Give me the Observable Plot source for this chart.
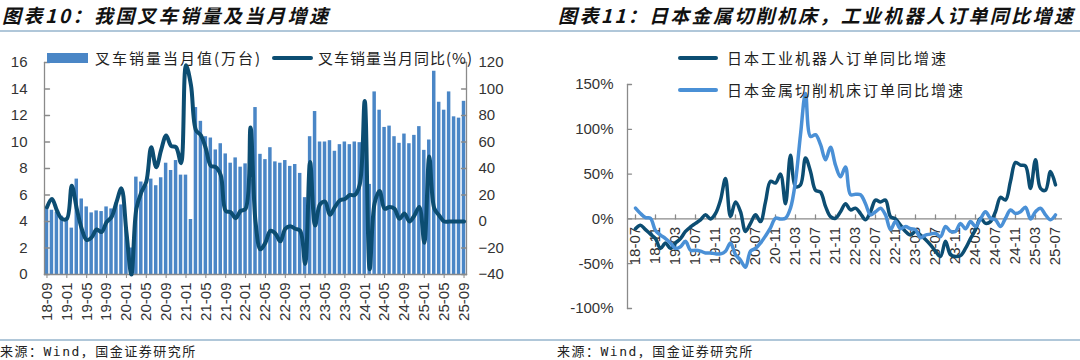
<!DOCTYPE html>
<html><head><meta charset="utf-8">
<script src="https://cdn.jsdelivr.net/npm/d3@7"></script>
<script src="https://cdn.jsdelivr.net/npm/@observablehq/plot@0.6"></script>
<style>
body{margin:0;background:#fff;width:1080px;height:360px;overflow:hidden;position:relative;font-family:"Liberation Sans",Arial,sans-serif;}
.abs{position:absolute;}
.title{font-family:"Noto Sans CJK SC";font-weight:700;font-style:italic;font-size:19px;letter-spacing:2.5px;color:#111;top:3px;line-height:24px;white-space:nowrap}
.rule{height:2px;background:#b0c7d9;left:0;width:1080px}
.src{font-family:"DejaVu Sans Mono","Noto Sans CJK SC";font-size:13px;letter-spacing:1.5px;color:#222;top:343px;line-height:18px;white-space:nowrap}
.leg{font-family:"Noto Sans CJK SC";font-size:15px;letter-spacing:2px;color:#222;line-height:18px;white-space:nowrap}
svg{position:absolute;}
</style></head><body>
<script>
// ---------- Data: chart 10 (forklift) ----------
const forkMonths = d3.utcMonth.range(new Date(Date.UTC(2018,8,1)), new Date(Date.UTC(2025,9,1))).map(d3.utcFormat("%y-%m"));
const forkSales = [5.0,4.85,4.7,4.4,4.2,3.5,7.2,5.7,5.1,4.65,4.8,4.75,5.1,4.95,5.4,5.25,3.45,2.0,7.35,6.98,
  6.7,7.2,6.7,7.3,8.4,7.85,8.6,7.5,7.5,4.15,12.6,11.56,10.4,10.3,9.4,9.87,9.1,8.4,8.8,8.1,
  8.35,7.15,12.6,9.07,8.67,9.57,8.5,8.4,8.6,8.16,8.3,7.63,5.8,10.4,12.3,10.0,10.0,10.1,9.3,9.8,
  10.0,9.8,10.0,9.95,11.0,6.8,13.78,12.4,11.1,11.2,10.4,9.9,10.6,9.87,10.5,11.16,9.37,10.15,15.34,13.0,
  12.4,13.78,11.9,11.8,13.07];
const forkYoY = [10.8,17,8.3,2,2,27,9.6,-5.5,-14,-12,-6,-8,-0.5,3.3,14.6,25,-8,-40,9.6,22,
  30,56,41,54,65,57,56,44,118,103,69,65,55,42,41,35,8,7,2.5,8,
  9.6,71,0,-21,-16,-7,-9,-15,-5.5,-3.5,-5.5,-7,-32,45,-3,13,15,5,11,16,
  17,20,20,28,91,-36,14,23,9.6,11,9.6,2,6,0,4.5,11,-16,49,10,4.5,
  0,0,0,0,0];
const forkXTicks = ["18-09","19-01","19-05","19-09","20-01","20-05","20-09","21-01","21-05","21-09","22-01","22-05","22-09","23-01","23-05","23-09","24-01","24-05","24-09","25-01","25-05","25-09"];
const forkLeftTicks = [0,2,4,6,8,10,12,14,16];
const forkRightTicks = [-40,-20,0,20,40,60,80,100,120];

// ---------- Data: chart 11 (Japan orders) ----------
const jpMonths = d3.utcMonth.range(new Date(Date.UTC(2018,6,1)), new Date(Date.UTC(2025,7,1))).map(d3.utcFormat("%y-%m"));
const robotYoY = [-11,-7,-12,-17,-22,-33,-27,-33,-27,-22,-14,-9,-5,-1,4.5,0,6,21,45,2.6,
  19,8,-14,-5,4.5,-3,19,42,40,50,17,71,36,38,68,53,32,30,14,2.6,
  0.7,8,17,10,12,6,-1,8,21,19,21,2.6,0,-7,-14,-18,-14,-18,-23,-29,
  -36,-42,-25,-40,-42,-41,-33,-22,-12,0.7,-5,-3,8,24,21,42,63,60,59,34,
  66,34,32,53,38];
const toolYoY = [12,6,1.5,0.7,-13,-18,-22,-27,-33,-31,-25,-35,-35,-36,-38,-38,-39,-39,-36,-27,
  -40,-46,-54,-36,-33,-27,-19,-10,0.7,0,0.7,12,42,94,140,92,94,83,66,80,
  60,47,58,27,27.5,27,17,4.5,8,12,4.5,-12,-3,-11,-8.5,-11,-12,-21,-18,-17,
  -16,-20,-8.5,-14,-14,-5,-11,-3,-8.5,0,8,0.7,-1,-8.5,0.7,10,6,8,13,0,
  8,12,4.5,-1,4.5];
const jpXTicks = ["18-07","18-11","19-03","19-07","19-11","20-03","20-07","20-11","21-03","21-07","21-11","22-03","22-07","22-11","23-03","23-07","23-11","24-03","24-07","24-11","25-03","25-07"];
const jpYTicks = [-100,-50,0,50,100,150];

const BAR = "#4a86c6", DARK = "#0c4d72", LIGHT = "#4a90d6", AX = "#8a8a8a", TXT = "#333";
const tickShape = {draw(ctx, l) { ctx.moveTo(0, 0); ctx.lineTo(0, -l); }};

const forkData = forkMonths.map((m, i) => ({m, v: forkSales[i], g: forkYoY[i]}));
const jpData = jpMonths.map((m, i) => ({m, r: robotYoY[i], t: toolYoY[i]}));

const baseStyle = {fontFamily: '"Liberation Sans",Arial,sans-serif', fontSize: "15px", color: TXT, background: "transparent", overflow: "visible"};
const leftCommon = {width: 540, height: 340, marginLeft: 44, marginRight: 74, marginTop: 62, marginBottom: 66, style: baseStyle};
const xBand = {type: "band", domain: forkMonths, paddingInner: 0.3, paddingOuter: 0.15};

const barsPlot = Plot.plot({
  ...leftCommon,
  x: {...xBand, label: null},
  y: {domain: [0, 16], label: null},
  marks: [
    Plot.barY(forkData, {x: "m", y: "v", fill: BAR}),
    Plot.frame({anchor: "left", stroke: AX, strokeWidth: 1.3}),
    Plot.frame({anchor: "bottom", stroke: AX, strokeWidth: 1.3}),
    Plot.vector(forkLeftTicks, {y: d => d, frameAnchor: "left", length: 5, rotate: 90, anchor: "start", shape: tickShape, stroke: AX, strokeWidth: 1.3}),
    Plot.axisY({ticks: forkLeftTicks, tickSize: 0, tickPadding: 17, label: null}),
    Plot.axisX({ticks: forkXTicks, tickRotate: -90, tickSize: 4, tickPadding: 4, stroke: AX, label: null})
  ]
});
const linePlot = Plot.plot({
  ...leftCommon,
  x: {...xBand, axis: null, label: null},
  y: {domain: [-40, 120], label: null},
  marks: [
    Plot.frame({anchor: "right", stroke: AX, strokeWidth: 1.3}),
    Plot.vector(forkRightTicks, {y: d => d, frameAnchor: "right", length: 5, rotate: -90, anchor: "start", shape: tickShape, stroke: AX, strokeWidth: 1.3}),
    Plot.axisY({anchor: "right", ticks: forkRightTicks, tickSize: 0, tickPadding: 12, label: null}),
    Plot.line(forkData, {x: "m", y: "g", stroke: DARK, strokeWidth: 4, curve: "catmull-rom", strokeLinejoin: "round", strokeLinecap: "round"})
  ]
});
const jpPlot = Plot.plot({
  width: 540, height: 340, marginLeft: 87, marginRight: 18, marginTop: 84, marginBottom: 32, style: baseStyle,
  x: {type: "point", domain: jpMonths, padding: 0, insetLeft: 3, insetRight: 2, axis: null, label: null},
  y: {domain: [-100, 150], label: null},
  marks: [
    Plot.frame({anchor: "left", stroke: AX, strokeWidth: 1.3}),
    Plot.ruleY([0], {stroke: AX, strokeWidth: 1.3}),
    Plot.vector(jpYTicks, {y: d => d, frameAnchor: "left", length: 4, rotate: 90, anchor: "start", shape: tickShape, stroke: AX, strokeWidth: 1.3}),
    Plot.axisY({ticks: jpYTicks, tickSize: 0, tickPadding: 14, tickFormat: d => d + "%", label: null}),
    Plot.vector(jpXTicks, {x: d => d, y: 0, length: 4, anchor: "start", shape: tickShape, stroke: AX, strokeWidth: 1.3}),
    Plot.text(jpXTicks, {x: d => d, y: 0, text: d => d, rotate: -90, textAnchor: "end", dy: 8, fill: TXT, fontSize: 15}),
    Plot.line(jpData, {x: "m", y: "r", stroke: DARK, strokeWidth: 3.5, curve: "catmull-rom", strokeLinejoin: "round", strokeLinecap: "round"}),
    Plot.line(jpData, {x: "m", y: "t", stroke: LIGHT, strokeWidth: 3.5, curve: "catmull-rom", strokeLinejoin: "round", strokeLinecap: "round"})
  ]
});

function place(el, left, top) { el.style.left = left + "px"; el.style.top = top + "px"; document.body.appendChild(el); }
place(barsPlot, 0, 0);
place(linePlot, 0, 0);
place(jpPlot, 540, 0);

function div(cls, css, text) {
  const d = document.createElement("div");
  d.className = "abs " + cls;
  d.style.cssText += css;
  if (text) d.textContent = text;
  document.body.appendChild(d);
  return d;
}
div("title", "left:2px;", "图表10：我国叉车销量及当月增速");
div("title", "right:5px;letter-spacing:2.3px;", "图表11：日本金属切削机床，工业机器人订单同比增速");
div("rule", "top:30px;");
div("rule", "top:339px;");
div("src", "left:0px;", "来源：Wind，国金证券研究所");
div("src", "left:557px;", "来源：Wind，国金证券研究所");
// legends
div("", `left:47px;top:53px;width:41px;height:10px;background:${BAR};`);
div("leg", "left:95px;top:49px;", "叉车销量当月值(万台)");
div("", `left:272px;top:56px;width:41px;height:4px;border-radius:2px;background:${DARK};`);
div("leg", "left:318px;top:49px;letter-spacing:1px;", "叉车销量当月同比(%)");
div("", `left:678px;top:56px;width:40px;height:4px;border-radius:2px;background:${DARK};`);
div("leg", "left:727px;top:49px;", "日本工业机器人订单同比增速");
div("", `left:678px;top:88px;width:40px;height:4px;border-radius:2px;background:${LIGHT};`);
div("leg", "left:727px;top:81px;", "日本金属切削机床订单同比增速");
</script></body></html>
